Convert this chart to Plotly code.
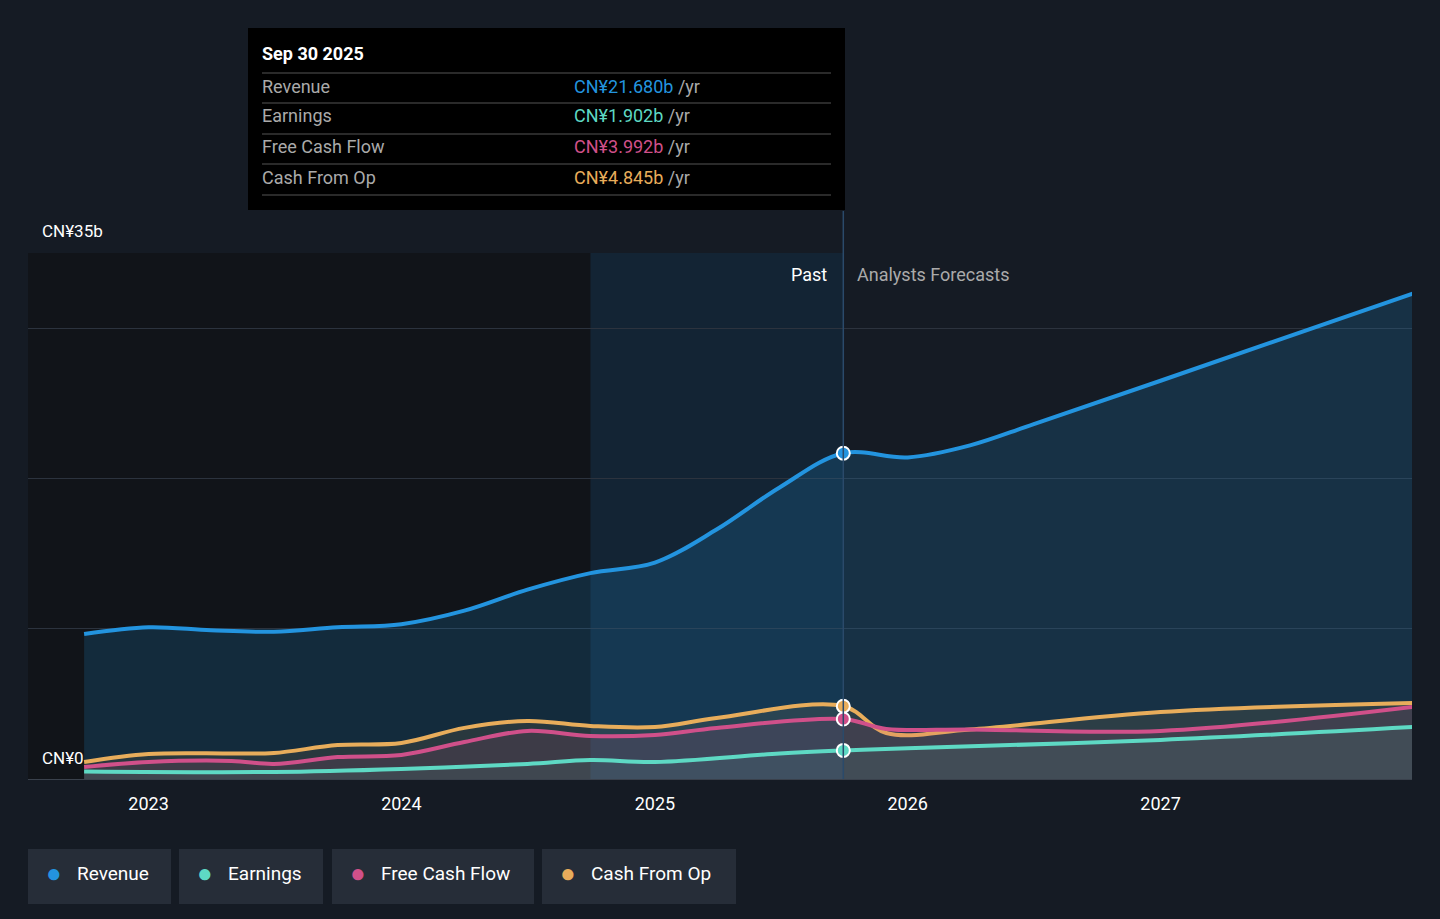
import plotly.graph_objects as go

rev_dates = ['2022-09-30', '2023-01-01', '2023-04-01', '2023-07-01', '2023-10-01', '2024-01-01',
             '2024-04-01', '2024-07-01', '2024-09-30', '2025-01-01', '2025-03-31', '2025-06-30',
             '2025-09-30', '2026-01-01', '2026-04-01', '2026-07-01', '2027-01-01', '2027-12-31']
revenue = [9.65, 10.1, 9.9, 9.8, 10.1, 10.3, 11.2, 12.6, 13.7, 14.4, 16.6, 19.4, 21.68,
           21.4, 22.2, 23.6, 26.5, 32.3]

earn_dates = ['2022-09-30', '2023-07-01', '2024-01-01', '2024-07-01', '2024-09-30', '2025-01-01',
              '2025-06-30', '2025-09-30', '2026-01-01', '2027-01-01', '2027-12-31']
earnings = [0.5, 0.47, 0.67, 1.0, 1.26, 1.13, 1.7, 1.902, 2.05, 2.6, 3.46]

cf_dates = ['2022-09-30', '2023-01-01', '2023-05-01', '2023-07-01', '2023-10-01', '2024-01-01',
            '2024-04-01', '2024-07-01', '2024-09-30', '2025-01-01', '2025-03-31', '2025-09-30',
            '2025-12-01', '2026-04-01', '2027-01-01', '2027-12-31']
fcf = [0.8, 1.13, 1.2, 1.0, 1.46, 1.6, 2.46, 3.2, 2.86, 2.93, 3.4, 3.992,
       3.33, 3.3, 3.2, 4.8]
cfo = [1.13, 1.66, 1.7, 1.73, 2.26, 2.4, 3.4, 3.86, 3.53, 3.46, 4.06, 4.845,
       3.06, 3.3, 4.46, 5.06]

BG = '#151b24'
X0, X1 = '2022-07-11', '2027-12-30'
fig = go.Figure()

fig.add_trace(go.Scatter(x=rev_dates, y=revenue, mode='lines', line=dict(color='#2394df', width=4, shape='spline'),
                         fill='tozeroy', fillcolor='rgba(35,148,223,0.18)', hoverinfo='skip'))
fig.add_trace(go.Scatter(x=cf_dates, y=cfo, mode='lines', line=dict(color='#e8ad5b', width=4, shape='spline'),
                         fill='tozeroy', fillcolor='rgba(232,173,91,0.10)', hoverinfo='skip'))
fig.add_trace(go.Scatter(x=cf_dates, y=fcf, mode='lines', line=dict(color='#d0508a', width=4, shape='spline'),
                         fill='tozeroy', fillcolor='rgba(208,80,138,0.12)', hoverinfo='skip'))
fig.add_trace(go.Scatter(x=earn_dates, y=earnings, mode='lines', line=dict(color='#5ed9c4', width=4, shape='spline'),
                         fill='tozeroy', fillcolor='rgba(94,217,196,0.08)', hoverinfo='skip'))

# markers at the past/forecast split
for val, col in [(21.68, '#2394df'), (4.845, '#e8ad5b'), (3.992, '#d0508a'), (1.902, '#5ed9c4')]:
    fig.add_trace(go.Scatter(x=['2025-09-30'], y=[val], mode='markers',
                             marker=dict(size=13, color=col, line=dict(color='white', width=2)), hoverinfo='skip'))

shapes = [
    dict(type='rect', xref='x', yref='paper', x0=X0, x1='2025-09-30', y0=0, y1=1,
         fillcolor='#111419', line_width=0, layer='below'),
    dict(type='rect', xref='x', yref='paper', x0='2024-09-30', x1='2025-09-30', y0=0, y1=1,
         fillcolor='rgba(35,110,180,0.18)', line_width=0, layer='below'),
    dict(type='line', xref='x', yref='paper', x0='2025-09-30', x1='2025-09-30', y0=0, y1=1.08,
         line=dict(color='#2a4a6a', width=1.5)),
    dict(type='rect', xref='paper', yref='paper', x0=(248 - 28) / 1384, x1=(845 - 28) / 1384,
         y0=(779 - 210) / 526, y1=(779 - 28) / 526, fillcolor='black', line_width=0),
]
for py in [73, 103, 134, 164, 195]:
    shapes.append(dict(type='line', xref='paper', yref='paper', x0=(262 - 28) / 1384, x1=(831 - 28) / 1384,
                       y0=(779 - py) / 526, y1=(779 - py) / 526, line=dict(color='#555', width=1)))

anns = [
    dict(x=(260 - 28) / 1384, y=(779 - 54) / 526, text='<b>Sep 30 2025</b>', font=dict(size=18, color='white')),
    dict(x=(40 - 28) / 1384, y=(779 - 231) / 526, text='CN¥35b', font=dict(size=17, color='white')),
    dict(x=(40 - 28) / 1384, y=(779 - 758) / 526, text='CN¥0', font=dict(size=17, color='white')),
    dict(x=(829 - 28) / 1384, y=(779 - 274) / 526, text='Past', font=dict(size=18, color='white'), xanchor='right'),
    dict(x=(855 - 28) / 1384, y=(779 - 274) / 526, text='Analysts Forecasts', font=dict(size=18, color='#aaaaaa')),
]
rows = [('Revenue', 'CN¥21.680b', '#2394df', 86), ('Earnings', 'CN¥1.902b', '#5ed9c4', 116),
        ('Free Cash Flow', 'CN¥3.992b', '#d0508a', 147), ('Cash From Op', 'CN¥4.845b', '#e8ad5b', 177)]
for name, val, col, py in rows:
    anns.append(dict(x=(260 - 28) / 1384, y=(779 - py) / 526, text=name, font=dict(size=18, color='#aaaaaa')))
    anns.append(dict(x=(572 - 28) / 1384, y=(779 - py) / 526,
                     text=f"<span style='color:{col}'>{val}</span> /yr", font=dict(size=18, color='#aaaaaa')))

legend = [('Revenue', '#2394df', 28, 171), ('Earnings', '#5ed9c4', 179, 323),
          ('Free Cash Flow', '#d0508a', 332, 534), ('Cash From Op', '#e8ad5b', 542, 736)]
for name, col, x0, x1 in legend:
    shapes.append(dict(type='rect', xref='paper', yref='paper', x0=(x0 - 28) / 1384, x1=(x1 - 28) / 1384,
                       y0=(779 - 904) / 526, y1=(779 - 849) / 526, fillcolor='#262d38', line_width=0))
    anns.append(dict(x=(x0 + 16 - 28) / 1384, y=(779 - 873) / 526, text='●', font=dict(size=26, color=col)))
    anns.append(dict(x=(x0 + 47 - 28) / 1384, y=(779 - 873) / 526, text=name, font=dict(size=19, color='white')))

for a in anns:
    a.setdefault('xanchor', 'left')
    a.update(xref='paper', yref='paper', yanchor='middle', showarrow=False)

fig.update_layout(
    width=1440, height=919, margin=dict(l=28, r=28, t=253, b=140),
    paper_bgcolor=BG, plot_bgcolor=BG, showlegend=False,
    font=dict(family='Roboto', color='white'),
    shapes=shapes, annotations=anns,
    xaxis=dict(range=[X0, X1], showgrid=False, zeroline=False,
               tickvals=['2023-01-01', '2024-01-01', '2025-01-01', '2026-01-01', '2027-01-01'],
               ticktext=['2023', '2024', '2025', '2026', '2027'], tickfont=dict(size=18, color='white'),
               ticks='outside', ticklen=8, tickcolor='rgba(0,0,0,0)',
               showline=True, linecolor='#3a414c'),
    yaxis=dict(range=[0, 35], tickvals=[0, 10, 20, 30, 35], showticklabels=False,
               gridcolor='#2c333e', zeroline=False),
)

fig.write_html("out.html", config={'displayModeBar': False},
               post_script="document.body.style.margin='0';document.body.style.background='#151b24';")
